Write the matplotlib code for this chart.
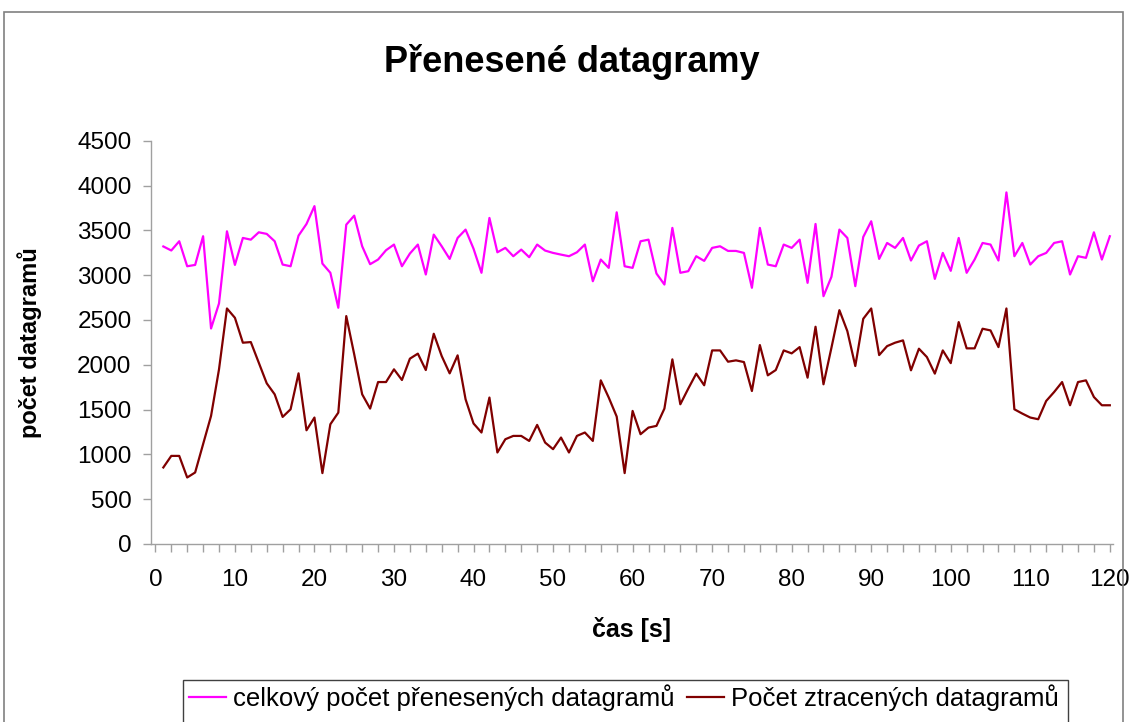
import numpy as np
import matplotlib
matplotlib.use("Agg")
from matplotlib import pyplot as plt
from matplotlib.patches import Rectangle

plt.rcParams["font.family"] = ["Liberation Sans", "DejaVu Sans"]

# cas [s]
cas = np.arange(1, 121)

# celkovy pocet prenesenych datagramu
celkem = [3320, 3275, 3378, 3099, 3114, 3434, 2405, 2684, 3489, 3114,
          3415, 3396, 3478, 3460, 3378, 3118, 3099, 3441, 3571, 3770,
          3129, 3026, 2636, 3563, 3664, 3322, 3122, 3174, 3278, 3341,
          3099, 3241, 3341, 3007, 3452, 3322, 3181, 3415, 3508, 3295,
          3026, 3638, 3255, 3304, 3211, 3285, 3200, 3341, 3274, 3248,
          3229, 3211, 3255, 3341, 2932, 3174, 3081, 3701, 3099, 3081,
          3378, 3396, 3018, 2895, 3527, 3026, 3044, 3211, 3159, 3304,
          3322, 3270, 3270, 3248, 2859, 3527, 3118, 3099, 3341, 3304,
          3396, 2914, 3571, 2765, 2981, 3508, 3415, 2877, 3426, 3601,
          3181, 3359, 3304, 3415, 3163, 3330, 3378, 2958, 3248, 3048,
          3415, 3026, 3174, 3359, 3341, 3163, 3923, 3211, 3359, 3118,
          3211, 3248, 3359, 3378, 3007, 3211, 3193, 3478, 3174, 3434]

# pocet ztracenych datagramu
ztraceno = [854, 983, 983, 742, 798, 1114, 1429, 1949, 2628, 2524,
            2246, 2253, 2023, 1793, 1670, 1418, 1503, 1904, 1269, 1411,
            791, 1336, 1466, 2543, 2116, 1670, 1511, 1807, 1807, 1949,
            1830, 2068, 2124, 1941, 2346, 2097, 1904, 2105, 1615, 1345,
            1244, 1634, 1021, 1169, 1206, 1206, 1150, 1329, 1132, 1058,
            1188, 1021, 1206, 1244, 1150, 1826, 1634, 1422, 791, 1485,
            1225, 1299, 1318, 1511, 2060, 1559, 1734, 1901, 1771, 2160,
            2160, 2034, 2049, 2030, 1707, 2220, 1882, 1941, 2160, 2127,
            2197, 1856, 2424, 1782, 2190, 2609, 2375, 1986, 2513, 2628,
            2108, 2208, 2246, 2272, 1938, 2179, 2086, 1901, 2160, 2018,
            2476, 2183, 2183, 2402, 2383, 2197, 2628, 1503, 1455, 1411,
            1392, 1596, 1696, 1807, 1548, 1807, 1826, 1640, 1548, 1548]

W, H = 1130, 722
fig = plt.figure(figsize=(W / 100, H / 100), dpi=100)

# outer chart frame (cut off at the bottom like the screenshot)
fig.patches.append(Rectangle((4 / W, -0.1), 1119 / W, 1.1 - 12 / H,
                             transform=fig.transFigure, fill=False,
                             edgecolor="#808080", linewidth=1.2))

ax = fig.add_axes([151 / W, 1 - 544 / H, (1113 - 151) / W, (544 - 140.7) / H])

l1, = ax.plot(cas, celkem, color="#FF00FF", linewidth=1.6)
l2, = ax.plot(cas, ztraceno, color="#800000", linewidth=1.6)

ax.set_xlim(-0.55, 120.4)
ax.set_ylim(0, 4500)
ax.set_xticks(np.arange(0, 121, 10))
ax.set_xticks(np.arange(0, 121, 2), minor=True)
ax.set_yticks(np.arange(0, 4501, 500))

for s in ["top", "right"]:
    ax.spines[s].set_visible(False)
for s in ["left", "bottom"]:
    ax.spines[s].set_color("#a0a0a0")
    ax.spines[s].set_linewidth(1.0)

ax.tick_params(axis="both", which="both", direction="out", length=6,
               width=1.0, color="#a0a0a0", labelsize=17.5, labelcolor="black")
ax.tick_params(axis="y", pad=8)
ax.tick_params(axis="x", pad=12)

fig.text(0.506, 1 - 62 / H, "Přenesené datagramy", fontsize=26,
         fontweight="bold", ha="center", va="center")
fig.text(632 / W, 1 - 630 / H, "čas [s]", fontsize=18, fontweight="bold",
         ha="center", va="center")
fig.text(30 / W, 1 - 343 / H, "počet datagramů", fontsize=17,
         fontweight="bold", ha="center", va="center", rotation=90)

# legend box
fig.patches.append(Rectangle((183 / W, -0.1), (1068 - 183) / W, 0.1 + 1 - 680 / H,
                             transform=fig.transFigure, fill=False,
                             edgecolor="#404040", linewidth=1.0))
fig.legend([l1, l2], ["celkový počet přenesených datagramů",
                      "Počet ztracených datagramů"],
           loc="center left", bbox_to_anchor=(189 / W, 1 - 698 / H),
           ncol=2, frameon=False, fontsize=18.5, handlelength=1.45,
           handletextpad=0.25, columnspacing=0.5, borderpad=0, borderaxespad=0)

fig.savefig("out.png", dpi=100)
